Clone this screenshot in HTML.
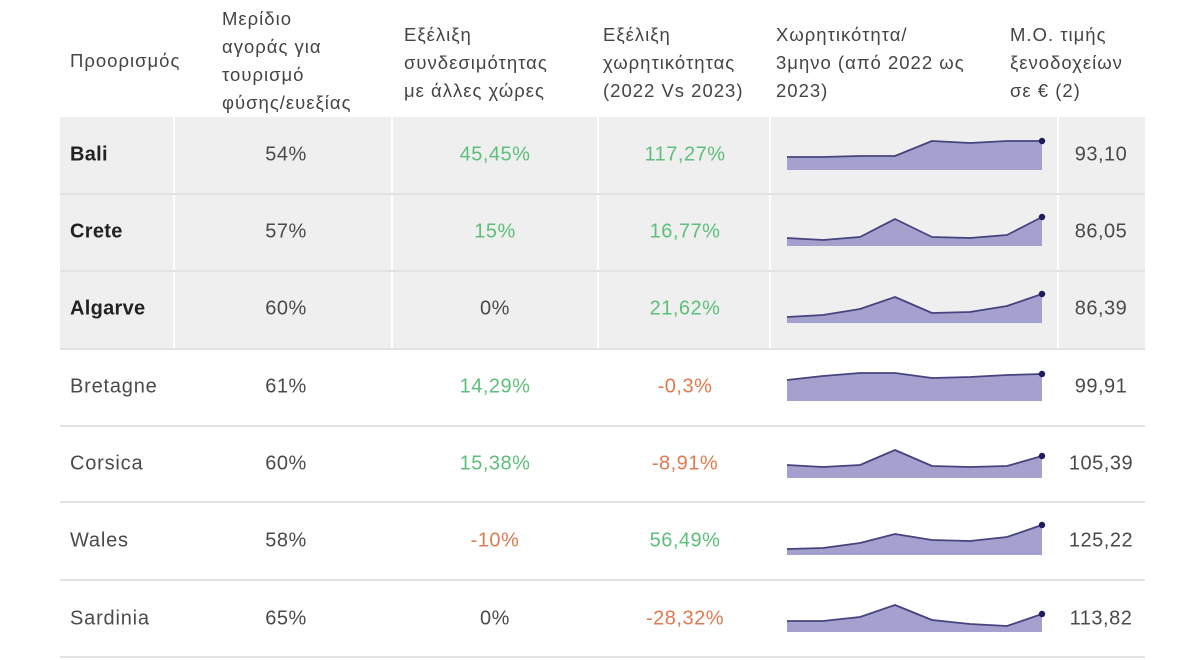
<!DOCTYPE html>
<html><head><meta charset="utf-8"><style>
body{margin:0;width:1200px;height:660px;background:#fff;position:relative;overflow:hidden;font-family:"Liberation Sans","DejaVu Sans",sans-serif;color:#4a4a4a}
.h{position:absolute;font-size:18.5px;line-height:28px;color:#444;white-space:nowrap;letter-spacing:1px}
.c{position:absolute;font-size:20px;letter-spacing:0.5px;text-align:center;transform:translate(-50%,-50%);white-space:nowrap}
.l{position:absolute;font-size:20px;letter-spacing:0.8px;transform:translateY(-50%)}
.b{font-weight:bold;color:#222;letter-spacing:0.3px}
.g{color:#5cbf7a}.r{color:#e07a50}
</style></head><body>
<div class="h" style="left:70px;top:47px">Προορισμός</div>
<div class="h" style="left:222px;top:5px">Μερίδιο<br>αγοράς για<br>τουρισμό<br>φύσης/ευεξίας</div>
<div class="h" style="left:404px;top:21px">Εξέλιξη<br>συνδεσιμότητας<br>με άλλες χώρες</div>
<div class="h" style="left:603px;top:21px">Εξέλιξη<br>χωρητικότητας<br>(2022 Vs 2023)</div>
<div class="h" style="left:776px;top:21px">Χωρητικότητα/<br>3μηνο (από 2022 ως<br>2023)</div>
<div class="h" style="left:1010px;top:21px">Μ.Ο. τιμής<br>ξενοδοχείων<br>σε € (2)</div>
<svg width="1200" height="660" style="position:absolute;left:0;top:0;z-index:-1">
<rect x="60" y="117" width="1085" height="231" fill="#efefef"/>
<g stroke="#fff" stroke-width="2"><line x1="174" y1="117" x2="174" y2="348"/><line x1="392" y1="117" x2="392" y2="348"/><line x1="598" y1="117" x2="598" y2="348"/><line x1="770" y1="117" x2="770" y2="348"/><line x1="1058" y1="117" x2="1058" y2="348"/></g>
<g stroke="#e2e2e2" stroke-width="2"><line x1="60" y1="194" x2="1145" y2="194"/><line x1="60" y1="271" x2="1145" y2="271"/><line x1="60" y1="349" x2="1145" y2="349"/><line x1="60" y1="426" x2="1145" y2="426"/><line x1="60" y1="502" x2="1145" y2="502"/><line x1="60" y1="580" x2="1145" y2="580"/><line x1="60" y1="657" x2="1145" y2="657"/></g>
</svg>
<svg width="1200" height="660" style="position:absolute;left:0;top:0">
<g fill="#a5a1cf" stroke="none">
<path d="M787,170 L787,157 823,157 860,156 895,156 932,141 970,143 1007,141 1042,141 1042,170Z"/>
<path d="M787,246 L787,238 823,240 860,237 895,219 932,237 970,238 1007,235 1042,217 1042,246Z"/>
<path d="M787,323 L787,317 823,315 860,309 895,297 932,313 970,312 1007,306 1042,294 1042,323Z"/>
<path d="M787,401 L787,380 823,376 860,373 895,373 932,378 970,377 1007,375 1042,374 1042,401Z"/>
<path d="M787,478 L787,465 823,467 860,465 895,450 932,466 970,467 1007,466 1042,456 1042,478Z"/>
<path d="M787,555 L787,549 823,548 860,543 895,534 932,540 970,541 1007,537 1042,525 1042,555Z"/>
<path d="M787,632 L787,621 823,621 860,617 895,605 932,620 970,624 1007,626 1042,614 1042,632Z"/>
</g>
<g fill="none" stroke="#46437e" stroke-width="1.8" stroke-linejoin="round">
<path d="M787,157 823,157 860,156 895,156 932,141 970,143 1007,141 1042,141"/>
<path d="M787,238 823,240 860,237 895,219 932,237 970,238 1007,235 1042,217"/>
<path d="M787,317 823,315 860,309 895,297 932,313 970,312 1007,306 1042,294"/>
<path d="M787,380 823,376 860,373 895,373 932,378 970,377 1007,375 1042,374"/>
<path d="M787,465 823,467 860,465 895,450 932,466 970,467 1007,466 1042,456"/>
<path d="M787,549 823,548 860,543 895,534 932,540 970,541 1007,537 1042,525"/>
<path d="M787,621 823,621 860,617 895,605 932,620 970,624 1007,626 1042,614"/>
</g>
<g fill="#1e1c5a"><circle cx="1042" cy="141" r="3.2"/><circle cx="1042" cy="217" r="3.2"/><circle cx="1042" cy="294" r="3.2"/><circle cx="1042" cy="374" r="3.2"/><circle cx="1042" cy="456" r="3.2"/><circle cx="1042" cy="525" r="3.2"/><circle cx="1042" cy="614" r="3.2"/></g>
</svg>
<div class="l b" style="left:70px;top:155px">Bali</div>
<div class="l b" style="left:70px;top:232px">Crete</div>
<div class="l b" style="left:70px;top:309px">Algarve</div>
<div class="l" style="left:70px;top:387px">Bretagne</div>
<div class="l" style="left:70px;top:464px">Corsica</div>
<div class="l" style="left:70px;top:541px">Wales</div>
<div class="l" style="left:70px;top:619px">Sardinia</div>

<div class="c" style="left:286px;top:155px">54%</div>
<div class="c" style="left:286px;top:232px">57%</div>
<div class="c" style="left:286px;top:309px">60%</div>
<div class="c" style="left:286px;top:387px">61%</div>
<div class="c" style="left:286px;top:464px">60%</div>
<div class="c" style="left:286px;top:541px">58%</div>
<div class="c" style="left:286px;top:619px">65%</div>

<div class="c g" style="left:495px;top:155px">45,45%</div>
<div class="c g" style="left:495px;top:232px">15%</div>
<div class="c" style="left:495px;top:309px">0%</div>
<div class="c g" style="left:495px;top:387px">14,29%</div>
<div class="c g" style="left:495px;top:464px">15,38%</div>
<div class="c r" style="left:495px;top:541px">-10%</div>
<div class="c" style="left:495px;top:619px">0%</div>

<div class="c g" style="left:685px;top:155px">117,27%</div>
<div class="c g" style="left:685px;top:232px">16,77%</div>
<div class="c g" style="left:685px;top:309px">21,62%</div>
<div class="c r" style="left:685px;top:387px">-0,3%</div>
<div class="c r" style="left:685px;top:464px">-8,91%</div>
<div class="c g" style="left:685px;top:541px">56,49%</div>
<div class="c r" style="left:685px;top:619px">-28,32%</div>

<div class="c" style="left:1101px;top:155px">93,10</div>
<div class="c" style="left:1101px;top:232px">86,05</div>
<div class="c" style="left:1101px;top:309px">86,39</div>
<div class="c" style="left:1101px;top:387px">99,91</div>
<div class="c" style="left:1101px;top:464px">105,39</div>
<div class="c" style="left:1101px;top:541px">125,22</div>
<div class="c" style="left:1101px;top:619px">113,82</div>
</body></html>
